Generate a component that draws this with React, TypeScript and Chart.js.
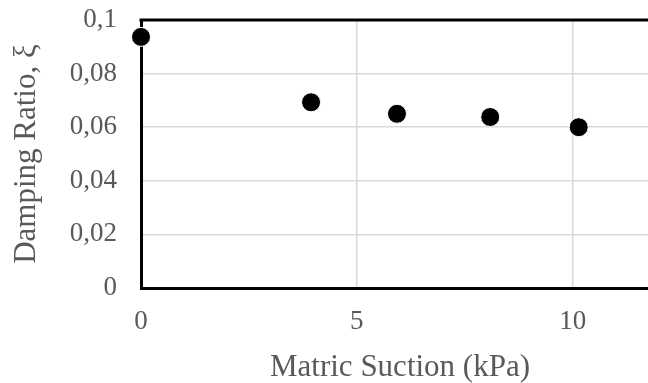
import React, { useEffect, useRef } from "react";
import { Chart, registerables } from "chart.js";

Chart.register(...registerables);

const suction = [0, 3.94, 5.93, 8.09, 10.14];
const damping = [0.0937, 0.0693, 0.065, 0.0638, 0.06];
const xTitle = "Matric Suction (kPa)";
const yTitle = "Damping Ratio, ξ";

const fmt = (v: number) => String(Math.round(v * 100) / 100).replace(".", ",");

const topBorder = {
  id: "topBorder",
  afterDatasetsDraw(chart: any) {
    const { ctx, chartArea } = chart;
    ctx.save();
    ctx.strokeStyle = "#000";
    ctx.lineWidth = 3;
    ctx.beginPath();
    ctx.moveTo(chartArea.left - 1.5, chartArea.top);
    ctx.lineTo(chartArea.right, chartArea.top);
    ctx.stroke();
    ctx.restore();
  },
};

export default function App() {
  const ref = useRef<HTMLCanvasElement>(null);
  useEffect(() => {
    if (!ref.current) return;
    const font = "'Liberation Serif', 'Times New Roman', serif";
    const chart = new Chart(ref.current, {
      type: "scatter",
      data: {
        datasets: [
          {
            data: suction.map((x, i) => ({ x, y: damping[i] })),
            backgroundColor: "#000",
            borderColor: "#fff",
            borderWidth: 1,
            pointRadius: 9.5,
            clip: false as any,
          },
        ],
      },
      options: {
        animation: false,
        responsive: false,
        layout: { padding: { top: 20, right: 41, bottom: 0, left: 0 } },
        plugins: { legend: { display: false }, tooltip: { enabled: false } },
        scales: {
          x: {
            type: "linear",
            min: 0,
            max: 12,
            afterFit: (s: any) => {
              s.height = 95;
              s.paddingLeft = 0;
              s.paddingRight = 0;
            },
            ticks: {
              stepSize: 5,
              includeBounds: false,
              padding: 18,
              color: "#595959",
              font: { family: font, size: 27 },
              callback: (v: any) => fmt(Number(v)),
            },
            grid: { color: "#d9d9d9", lineWidth: 1.5, drawTicks: false },
            border: { color: "#000", width: 3 },
            title: {
              display: true,
              text: xTitle,
              color: "#595959",
              font: { family: font, size: 31, lineHeight: 1 },
              padding: { top: 0, bottom: 0 },
            },
          },
          y: {
            type: "linear",
            min: 0,
            max: 0.1,
            afterFit: (s: any) => {
              s.width = 141;
              s.paddingTop = 0;
              s.paddingBottom = 0;
            },
            ticks: {
              stepSize: 0.02,
              padding: 24,
              color: "#595959",
              font: { family: font, size: 27 },
              callback: (v: any) => fmt(Number(v)),
            },
            grid: { color: "#d9d9d9", lineWidth: 1.5, drawTicks: false },
            border: { color: "#000", width: 3 },
            title: {
              display: true,
              text: yTitle,
              color: "#595959",
              font: { family: font, size: 31, lineHeight: 1 },
              padding: { top: 11, bottom: 0 },
            },
          },
        },
      },
      plugins: [topBorder],
    });
    return () => chart.destroy();
  }, []);
  return (
    <div style={{ position: "fixed", left: 0, top: 0, width: 700, height: 383, background: "#fff" }}>
      <canvas ref={ref} width={700} height={383} style={{ width: 700, height: 383 }} />
    </div>
  );
}
